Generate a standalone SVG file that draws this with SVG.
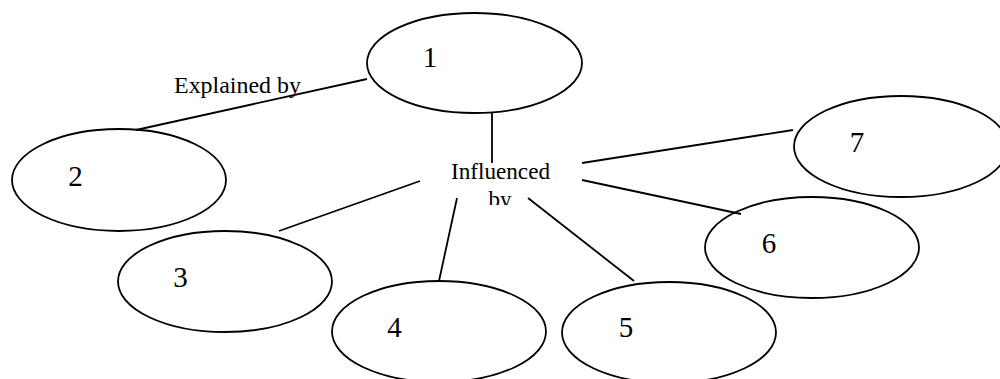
<svg xmlns="http://www.w3.org/2000/svg" width="1000" height="379" viewBox="0 0 1000 379">
<style>
.node ellipse{fill:none;stroke:#000;stroke-width:1.8}
.num{font-family:"Liberation Serif","Times New Roman",serif;font-size:29px;fill:#000;text-anchor:middle}
.lbl{font-family:"Liberation Serif","Times New Roman",serif;font-size:23px;fill:#000}
#connectors line{stroke:#000;stroke-width:1.8}
</style>
<defs>
<clipPath id="clipInf"><rect x="440" y="150" width="150" height="55"/></clipPath>
</defs>
<rect width="1000" height="379" fill="#fff"/>
<g id="node1" class="node"><ellipse cx="474.5" cy="63" rx="107.5" ry="50"/><text class="num" x="430" y="67">1</text></g>
<g id="node2" class="node"><ellipse cx="119" cy="180" rx="107" ry="51"/><text class="num" x="75.5" y="186">2</text></g>
<g id="node3" class="node"><ellipse cx="225" cy="281.5" rx="107" ry="50.5"/><text class="num" x="180.5" y="287">3</text></g>
<g id="node4" class="node"><ellipse cx="439" cy="331.5" rx="107" ry="50.5"/><text class="num" x="394.5" y="337">4</text></g>
<g id="node5" class="node"><ellipse cx="669" cy="332.5" rx="107" ry="50.5"/><text class="num" x="626" y="337">5</text></g>
<g id="node6" class="node"><ellipse cx="812" cy="247.5" rx="107" ry="50.5"/><text class="num" x="769" y="253">6</text></g>
<g id="node7" class="node"><ellipse cx="901" cy="146.5" rx="107" ry="50.5"/><text class="num" x="857" y="152">7</text></g>
<g id="labels">
<text class="lbl" x="174" y="93" textLength="127" lengthAdjust="spacingAndGlyphs">Explained by</text>
<g clip-path="url(#clipInf)">
<text class="lbl" x="451" y="179" textLength="99" lengthAdjust="spacingAndGlyphs">Influenced</text>
<text class="lbl" x="500" y="207" text-anchor="middle">by</text>
</g>
</g>
<g id="connectors">
<line x1="367" y1="79" x2="136" y2="130"/>
<line x1="492" y1="113" x2="492" y2="163"/>
<line x1="420" y1="181" x2="279" y2="231"/>
<line x1="457" y1="198" x2="439" y2="281"/>
<line x1="528" y1="198" x2="634" y2="281"/>
<line x1="582" y1="180" x2="741" y2="214"/>
<line x1="582" y1="163" x2="793" y2="130"/>
</g>
</svg>
